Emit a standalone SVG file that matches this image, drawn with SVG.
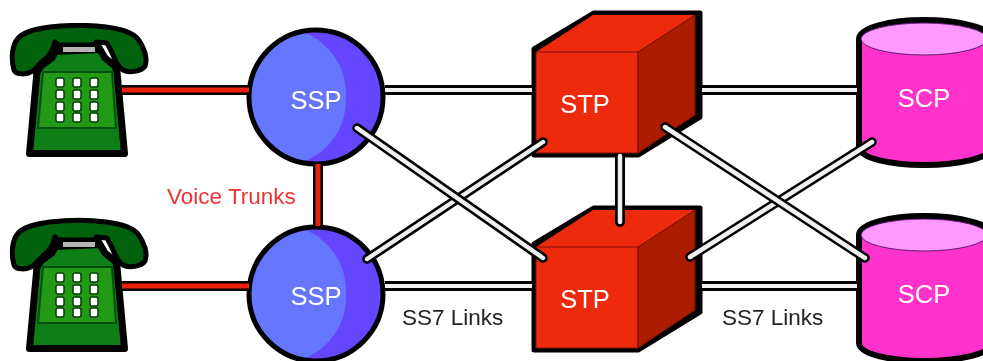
<svg xmlns="http://www.w3.org/2000/svg" xmlns:xlink="http://www.w3.org/1999/xlink" width="983" height="361" viewBox="0 0 983 361">
<style>
.lbl{font-family:"Liberation Sans",Arial,sans-serif;font-size:25.5px;fill:#fff;text-anchor:middle}
.note{font-family:"Liberation Sans",Arial,sans-serif;font-size:22.5px}
.trunkO{stroke:#000;stroke-width:10;fill:none}
.trunkI{stroke:#e8230c;stroke-width:5;fill:none}
.linkO{stroke:#000;stroke-width:10;fill:none}
.linkI{stroke:#f2f2f2;stroke-width:4;fill:none}
.xO{stroke:#000;stroke-width:9.5;fill:none;stroke-linecap:round}
.xI{stroke:#f0f0f0;stroke-width:4.5;fill:none;stroke-linecap:round}
</style>
<defs>
<filter id="soft" x="0" y="0" width="983" height="361" filterUnits="userSpaceOnUse"><feGaussianBlur stdDeviation="0.7"/></filter>
<g id="phone" stroke-linejoin="round">
<path d="M14,70 C11,60 12,48 16,41 C21,32 35,29 50,27 C68,25 90,25 106,27 C122,29 133,33 138,39 C144,47 148,58 145,66 C141,72 128,73 123,70 C118,67 115,60 113,55 C111,50 109,47 107,43 L96,42 L95,47 L60,47 L55,42 C53,50 50,56 44,60 C38,65 36,69 33,71 C26,75 16,75 14,70 Z" fill="#05620f" stroke="#000" stroke-width="5"/>
<path d="M37,72 L41,66 L52,58 L58,46 L98,46 L105,58 L115,66 L117,72 L124.500,153.500 L29.500,153.500 Z" fill="#0a7f18" stroke="#000" stroke-width="7"/>
<path d="M57,43 L99,43 L103,53 L53,55 Z" fill="#000"/>
<path d="M43,72 L112,72 L116,128 L38,128 Z" fill="#239a18" stroke="#05500c" stroke-width="2"/>
<rect x="63" y="47" width="32" height="5" fill="#b5b5b5"/>
<g fill="#fff" stroke="#0a3a0a" stroke-width="1.500">
<rect x="56" y="78" width="8" height="9" rx="2"/><rect x="73" y="78" width="8" height="9" rx="2"/><rect x="90" y="78" width="8" height="9" rx="2"/>
<rect x="56" y="90" width="8" height="9" rx="2"/><rect x="73" y="90" width="8" height="9" rx="2"/><rect x="90" y="90" width="8" height="9" rx="2"/>
<rect x="56" y="102" width="8" height="9" rx="2"/><rect x="73" y="102" width="8" height="9" rx="2"/><rect x="90" y="102" width="8" height="9" rx="2"/>
<rect x="56" y="113" width="8" height="9" rx="2"/><rect x="73" y="113" width="8" height="9" rx="2"/><rect x="90" y="113" width="8" height="9" rx="2"/>
</g>
</g>
<g id="sphere">
<circle cx="316" cy="97" r="67" fill="#6644ff"/>
<path d="M302,31.500 A67,67 0 0 0 302,162.500 A66.500,66.500 0 0 0 346,97 A66.500,66.500 0 0 0 302,31.500 Z" fill="#6677ff"/>
<circle cx="316" cy="97" r="67" fill="none" stroke="#000" stroke-width="5"/>
</g>
<g id="cube">
<path d="M534,49 L594,13 L700,13 L700,117 L638,155 L534,155 Z" fill="#000" stroke="#000" stroke-width="5" stroke-linejoin="round"/>
<path d="M536,52 L593,15 L695,15 L638,52 Z" fill="#ee2a10"/>
<rect x="536" y="52" width="102" height="101" fill="#ee2a10" stroke="#7a1005" stroke-width="1"/>
<path d="M638,52 L695,15 L695,115 L638,153 Z" fill="#ac1b05" stroke="#7a1005" stroke-width="1"/>
</g>
<g id="drum">
<path d="M859,39 V147 C859,158 890,165 924,165 C958,165 992,158 992,147 V39 C992,28 958,20 924,20 C890,20 859,28 859,39 Z" fill="#ff33cc" stroke="#000" stroke-width="6"/>
<ellipse cx="924" cy="39" rx="63" ry="16" fill="#ff99ff" stroke="#5a1a70" stroke-width="1"/>
</g>
</defs>
<rect width="983" height="361" fill="#fff"/>
<g filter="url(#soft)">
<g id="phone1"><use xlink:href="#phone" href="#phone"/></g>
<g id="phone2"><use xlink:href="#phone" href="#phone" y="195"/></g>
<g id="ssp1"><use xlink:href="#sphere" href="#sphere"/><text class="lbl" x="316" y="109">SSP</text></g>
<g id="ssp2"><use xlink:href="#sphere" href="#sphere" y="197"/><text class="lbl" x="316" y="305">SSP</text></g>
<g id="stp1"><use xlink:href="#cube" href="#cube"/><text class="lbl" x="585" y="113">STP</text></g>
<g id="stp2"><use xlink:href="#cube" href="#cube" y="195"/><text class="lbl" x="585" y="308">STP</text></g>
<g id="scp1"><use xlink:href="#drum" href="#drum"/><text class="lbl" x="924" y="107">SCP</text></g>
<g id="scp2"><use xlink:href="#drum" href="#drum" y="196"/><text class="lbl" x="924" y="303">SCP</text></g>
<g id="connectors">
<path class="trunkO" d="M122,90 H249 M122,286 H249 M318,163 V227"/>
<path class="trunkI" d="M122,90 H249 M122,286 H249 M318,164 V226"/>
<path class="linkO" d="M385,90 H532 M702,90 H857 M385,286 H532 M702,286 H857"/>
<path class="linkI" d="M385,90 H532 M702,90 H857 M385,286 H532 M702,286 H857"/>
<path d="M615,157 V222 A5,5 0 0 0 625,222 V157 Z" fill="#000"/>
<path class="xI" d="M620,156 V222"/>
<path class="xO" d="M367,259 L543,142 M690,257 L872,142"/>
<path class="xI" d="M367,259 L543,142 M690,257 L872,142"/>
<path class="xO" d="M357,128 L543,258 M665,127 L865,258"/>
<path class="xI" d="M357,128 L543,258 M665,127 L865,258"/>
</g>
<text class="note" x="167" y="204" fill="#ee3333">Voice Trunks</text>
<text class="note" x="402" y="325" fill="#222">SS7 Links</text>
<text class="note" x="722" y="325" fill="#222">SS7 Links</text>
</g>
</svg>
